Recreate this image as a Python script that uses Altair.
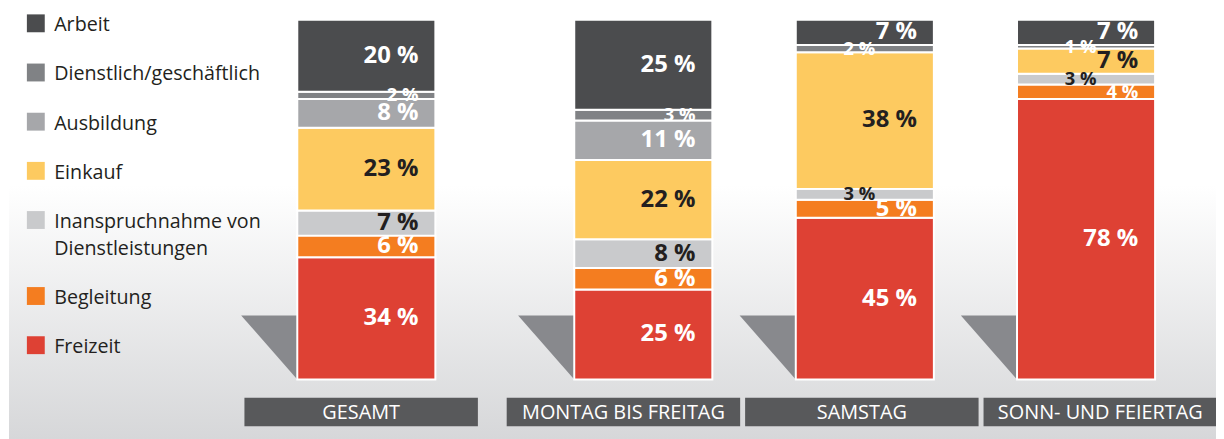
import altair as alt
import pandas as pd

# ---------------- data ----------------
categories = [
    "Arbeit",
    "Dienstlich/geschäftlich",
    "Ausbildung",
    "Einkauf",
    "Inanspruchnahme von Dienstleistungen",
    "Begleitung",
    "Freizeit",
]
groups = ["GESAMT", "MONTAG BIS FREITAG", "SAMSTAG", "SONN- UND FEIERTAG"]
gesamt = [20, 2, 8, 23, 7, 6, 34]
montag_bis_freitag = [25, 3, 11, 22, 8, 6, 25]
samstag = [7, 2, 0, 38, 3, 5, 45]
sonn_feiertag = [7, 1, 0, 7, 3, 4, 78]
series = [gesamt, montag_bis_freitag, samstag, sonn_feiertag]

# ---------------- styles ----------------
colors = ["#4b4c4e", "#808285", "#a6a7aa", "#fdca60", "#c9cacc", "#f47d20", "#de4134"]
dark_label = {"Einkauf", "Inanspruchnahme von Dienstleistungen"}
TEXT_DARK = "#231f20"
FONT = "Open Sans"

# ---------------- layout (pixels of the plot area) ----------------
W, H = 1216, 431
bar_centers = [360.7, 639.5, 862.5, 1085.2]
BAR_W = 139
Y_ZERO_PX, Y_HUNDRED_PX = 372.5, 10.5
ppu = (Y_ZERO_PX - Y_HUNDRED_PX) / 100.0
y_dom = [-(H - Y_ZERO_PX) / ppu, 100 + Y_HUNDRED_PX / ppu]
box_lefts = [238, 502, 742, 982]
BOX_W, BOX_Y0, BOX_Y1 = 235, 391, 419.7
SHADOW_TOP, SHADOW_W = 308, 56.5

# ---------------- build tables ----------------
bottom_up = list(range(len(categories)))[::-1]
bar_rows, label_rows = [], []
for g, vals, xc in zip(groups, series, bar_centers):
    cum = 0
    for i in bottom_up:
        v = vals[i]
        y0, y1 = cum, cum + v
        cum = y1
        if v <= 0:
            continue
        bar_rows.append(dict(group=g, cat=categories[i], x0=xc - BAR_W / 2, x1=xc + BAR_W / 2, y0=y0, y1=y1))
        # neighbours (non-zero) to decide on a sideways shift of tiny labels
        nb = [vals[j] for j in range(i - 1, -1, -1) if vals[j] > 0][:1] + \
             [vals[j] for j in range(i + 1, len(vals)) if vals[j] > 0][:1]
        shift = -42 if (v <= 3 and min(nb) <= 7) else 0
        label_rows.append(dict(
            group=g, cat=categories[i], txt=f"{v} %",
            lx=xc + BAR_W / 2 - 17 + shift, ly=(y0 + y1) / 2,
            tcol=TEXT_DARK if categories[i] in dark_label else "white",
            fs=24 if v >= 5 else 18.5,
        ))
bars_df = pd.DataFrame(bar_rows)
labels_df = pd.DataFrame(label_rows)

shadow_rows = []
for g, xc in zip(groups, bar_centers):
    left = xc - BAR_W / 2
    shadow_rows.append(dict(group=g, sx=left - SHADOW_W, sy=SHADOW_TOP, sy2=SHADOW_TOP))
    shadow_rows.append(dict(group=g, sx=left, sy=SHADOW_TOP, sy2=Y_ZERO_PX))
shadow_df = pd.DataFrame(shadow_rows)

box_df = pd.DataFrame(dict(group=groups, bx0=box_lefts, bx1=[b + BOX_W for b in box_lefts],
                           bxc=[b + BOX_W / 2 for b in box_lefts]))

leg_y, y = [], 14
for c in categories:
    leg_y.append(y)
    y += 49.5 + (27 if "von" in c else 0)
legend_df = pd.DataFrame(dict(cat=categories, text=[c.replace("von ", "von\n") for c in categories],
                              ly=leg_y, sx=[28] * len(categories), tx=[46.5] * len(categories)))

bg_df = pd.DataFrame(dict(x0=[1], x1=[W], y0=[177], y1=[H + 8]))

color_scale = alt.Scale(domain=categories, range=colors)
px = dict(scale=None)

# ---------------- layers ----------------
background = alt.Chart(bg_df).mark_rect(
    color=alt.Gradient(gradient="linear",
                       stops=[alt.GradientStop(color="#ffffff", offset=0),
                              alt.GradientStop(color="#d5d6d8", offset=1)],
                       x1=0, x2=0, y1=0, y2=1)
).encode(x=alt.X("x0:Q", **px), x2="x1", y=alt.Y("y0:Q", **px), y2="y1")

shadows = alt.Chart(shadow_df).mark_area(color="#88898d", interpolate="linear").encode(
    x=alt.X("sx:Q", **px), y=alt.Y("sy:Q", **px), y2="sy2", detail="group:N"
)

bars = alt.Chart(bars_df).mark_rect(stroke="white", strokeWidth=2).encode(
    x=alt.X("x0:Q", **px), x2="x1",
    y=alt.Y("y0:Q", scale=alt.Scale(domain=y_dom, nice=False, zero=False), axis=None), y2="y1",
    color=alt.Color("cat:N", scale=color_scale, legend=None),
)

values = alt.Chart(labels_df).mark_text(align="right", baseline="middle", font=FONT, fontWeight="bold").encode(
    x=alt.X("lx:Q", **px),
    y=alt.Y("ly:Q", scale=alt.Scale(domain=y_dom, nice=False, zero=False), axis=None),
    text="txt:N",
    color=alt.Color("tcol:N", scale=None),
    size=alt.Size("fs:Q", scale=None),
)

boxes = alt.Chart(box_df).mark_rect(color="#58595b").encode(
    x=alt.X("bx0:Q", **px), x2="bx1",
    y=alt.value(BOX_Y0), y2=alt.value(BOX_Y1),
)
box_text = alt.Chart(box_df).mark_text(color="white", font=FONT, fontSize=20, baseline="middle").encode(
    x=alt.X("bxc:Q", **px), y=alt.value((BOX_Y0 + BOX_Y1) / 2 + 1), text="group:N"
)

leg_sq = alt.Chart(legend_df).mark_square(size=324, opacity=1, filled=True).encode(
    x=alt.X("sx:Q", **px), y=alt.Y("ly:Q", **px),
    color=alt.Color("cat:N", scale=color_scale, legend=None),
)
leg_txt = alt.Chart(legend_df).mark_text(
    align="left", baseline="alphabetic", font=FONT, fontSize=19.8, color=TEXT_DARK,
    lineBreak="\n", lineHeight=27, dy=8,
).encode(x=alt.X("tx:Q", **px), y=alt.Y("ly:Q", **px), text="text:N")

chart = alt.layer(
    background, shadows, bars, values, boxes, box_text, leg_sq, leg_txt
).resolve_scale(
    x="independent", y="independent", color="independent"
).properties(
    width=W, height=H, padding=0, autosize="none", background="white"
).configure_view(stroke=None)

chart.save("out.html", embed_options={"renderer": "svg", "actions": False})
